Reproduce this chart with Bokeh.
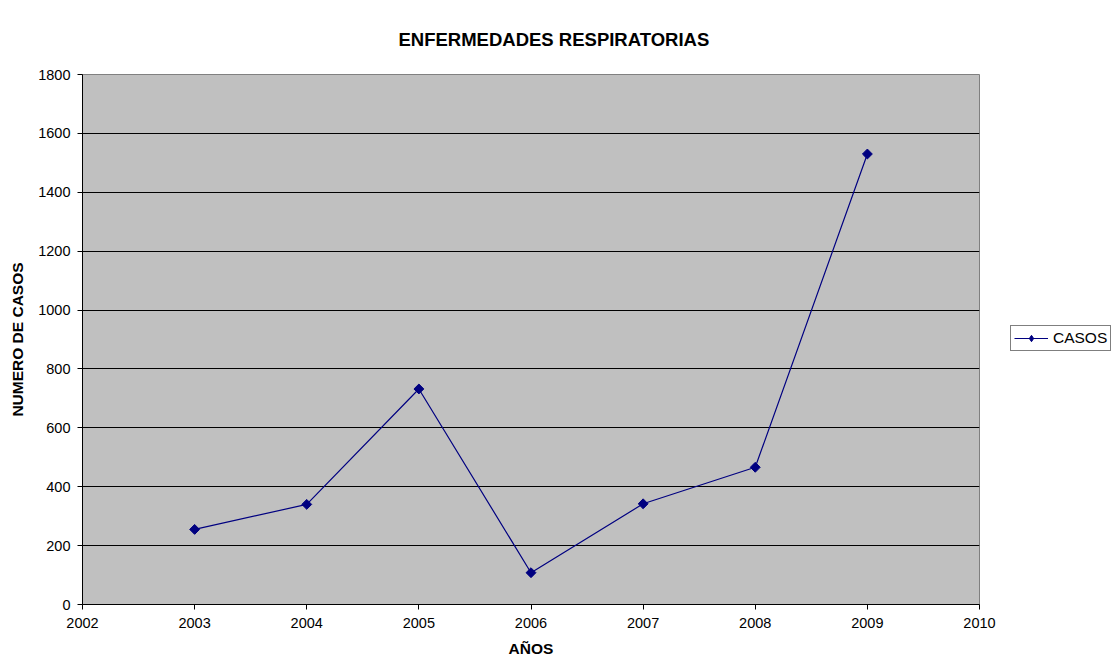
import math
from bokeh.plotting import figure
from bokeh.layouts import row
from bokeh.models import Range1d, FixedTicker, Legend, LegendItem
from bokeh.embed import file_html
from bokeh.resources import INLINE

years = [2003, 2004, 2005, 2006, 2007, 2008, 2009]
casos = [255, 340, 732, 108, 342, 466, 1530]
x_ticks = [2002, 2003, 2004, 2005, 2006, 2007, 2008, 2009, 2010]
y_ticks = [0, 200, 400, 600, 800, 1000, 1200, 1400, 1600, 1800]
series_name = "CASOS"

FONT = "Liberation Sans"
NAVY = "#000080"

p = figure(width=1000, height=664, output_backend="svg", toolbar_location=None,
           x_range=Range1d(2002, 2010), y_range=Range1d(0, 1800),
           min_border_left=82, min_border_right=21, min_border_top=74, min_border_bottom=60)

p.title.text = "ENFERMEDADES RESPIRATORIAS"
p.title.align = "left"
p.title.offset = 316
p.title.text_font = FONT
p.title.text_font_size = "18.5px"
p.title.text_font_style = "bold"
p.title.text_color = "black"
p.title.vertical_align = "bottom"
p.title.standoff = 50

p.background_fill_color = "#C0C0C0"
p.border_fill_color = "white"
p.outline_line_color = "#808080"
p.outline_line_width = 1

p.xgrid.visible = False
p.ygrid.grid_line_color = "black"
p.ygrid.grid_line_width = 1
p.ygrid.ticker = FixedTicker(ticks=y_ticks)

for ax in (p.xaxis[0], p.yaxis[0]):
    ax.axis_line_color = "black"
    ax.major_tick_line_color = "black"
    ax.minor_tick_line_color = None
    ax.major_tick_out = 5
    ax.major_tick_in = 0
    ax.major_label_text_font = FONT
    ax.major_label_text_font_size = "14.5px"
    ax.major_label_text_color = "black"
    ax.axis_label_text_font = FONT
    ax.axis_label_text_font_size = "15.5px"
    ax.axis_label_text_font_style = "bold"
    ax.axis_label_text_color = "black"

p.xaxis.ticker = FixedTicker(ticks=x_ticks)
p.yaxis.ticker = FixedTicker(ticks=y_ticks)
p.xaxis.axis_label = "AÑOS"
p.yaxis.axis_label = "NUMERO DE CASOS"
p.xaxis.major_label_standoff = 8
p.yaxis.major_label_standoff = 7
p.xaxis.axis_label_standoff = 9
p.yaxis.axis_label_standoff = 9

p.line(years, casos, line_color=NAVY, line_width=1.2)
p.scatter(years, casos, marker="square", angle=math.pi / 4, size=7,
          fill_color=NAVY, line_color=NAVY)

# legend panel to the right of the plot
lp = figure(width=117, height=664, output_backend="svg", toolbar_location=None,
            x_range=Range1d(0, 1), y_range=Range1d(0, 1),
            min_border=0, outline_line_color=None)
lp.axis.visible = False
lp.grid.visible = False
lln = lp.line(x=[5, 6], y=[5, 6], line_color=NAVY, line_width=1.2)
lmk = lp.scatter(x=[5], y=[5], marker="diamond", size=12, fill_color=NAVY, line_color=NAVY)

legend = Legend(items=[LegendItem(label=series_name, renderers=[lln, lmk])],
                location=(10, 253), orientation="vertical")
legend.label_text_font = FONT
legend.label_text_font_size = "15.5px"
legend.label_text_color = "black"
legend.border_line_color = "black"
legend.border_line_width = 1
legend.background_fill_color = "white"
legend.glyph_width = 34
legend.glyph_height = 16
legend.label_standoff = 5
legend.label_height = 16
legend.padding = 3
legend.margin = 0
legend.spacing = 0
lp.add_layout(legend, "center")

layout = row(p, lp)
open("out.html", "w").write(file_html(layout, INLINE))
